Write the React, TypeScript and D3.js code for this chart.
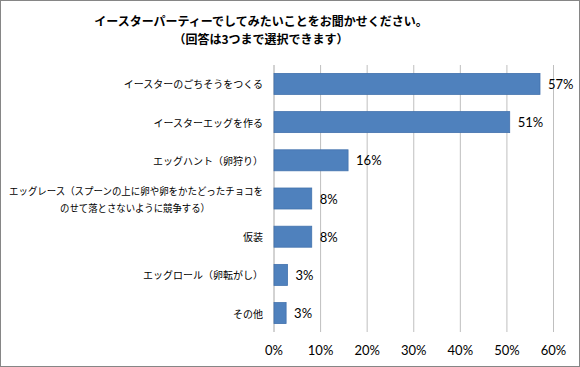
import * as d3 from "d3"

// Chart data
const categories = [
  "イースターのごちそうをつくる",
  "イースターエッグを作る",
  "エッグハント（卵狩り）",
  "エッグレース（スプーンの上に卵や卵をかたどったチョコを\nのせて落とさないように競争する）",
  "仮装",
  "エッグロール（卵転がし）",
  "その他",
]
const values = [57.1, 50.6, 15.9, 8.1, 8.1, 2.9, 2.6]
const valueLabels = ["57%", "51%", "16%", "8%", "8%", "3%", "3%"]
const ticks = [0, 10, 20, 30, 40, 50, 60]
const titleLines = ["イースターパーティーでしてみたいことをお聞かせください。", "（回答は3つまで選択できます）"]

const W = 580
const H = 367
const jp = "'Noto Sans CJK JP', sans-serif"
const num = "Lato, 'Open Sans', sans-serif"

export default function App() {
  const x = d3.scaleLinear().domain([0, 60]).range([274, 553.5])
  const y = d3.scaleBand().domain(categories).range([65, 332]).paddingInner(0.45).paddingOuter(0.22)

  return (
    <svg width={W} height={H} style={{ position: "absolute", left: 0, top: 0, background: "#fff" }}>
      <rect x={0.5} y={0.5} width={W - 1} height={H - 1} fill="#fff" stroke="#868686" />

      {/* title */}
      {titleLines.map((t, i) => (
        <text key={t} x={261} y={20 + i * 18.5} textAnchor="middle" dominantBaseline="central" fontFamily={jp} fontSize={12} fontWeight="bold" fill="#000">
          {t}
        </text>
      ))}

      {/* grid */}
      {ticks.map((t) => (
        <line key={t} x1={x(t)} x2={x(t)} y1={65} y2={332} stroke={t === 0 ? "#a6a6a6" : "#bfbfbf"} strokeWidth={1} />
      ))}

      {/* bars */}
      {categories.map((c, i) => (
        <g key={c}>
          <rect x={x(0)} y={y(c)} width={x(values[i]) - x(0)} height={y.bandwidth()} fill="#4f81bd" stroke="#4372ad" strokeWidth={0.8} />
          <text x={x(values[i]) + 8} y={(y(c) || 0) + y.bandwidth() / 2} dominantBaseline="central" fontFamily={num} fontSize={13} fill="#000">
            {valueLabels[i]}
          </text>
        </g>
      ))}

      {/* category labels */}
      {categories.map((c) => {
        const lines = c.split("\n")
        const cy = (y(c) || 0) + y.bandwidth() / 2
        return lines.map((ln, j) => {
          const multi = lines.length > 1
          return (
            <text
              key={c + j}
              x={multi && j === 1 ? 135 : 263}
              y={cy + (j - (lines.length - 1) / 2) * 17}
              textAnchor={multi && j === 1 ? "middle" : "end"}
              dominantBaseline="central"
              fontFamily={jp}
              fontSize={10}
              textLength={multi ? (j === 0 ? 254 : 150) : undefined}
              lengthAdjust="spacingAndGlyphs"
              fill="#000"
            >
              {ln}
            </text>
          )
        })
      })}

      {/* x tick labels */}
      {ticks.map((t) => (
        <text key={t} x={x(t)} y={350} textAnchor="middle" dominantBaseline="central" fontFamily={num} fontSize={13} fill="#000">
          {t}%
        </text>
      ))}
    </svg>
  )
}
